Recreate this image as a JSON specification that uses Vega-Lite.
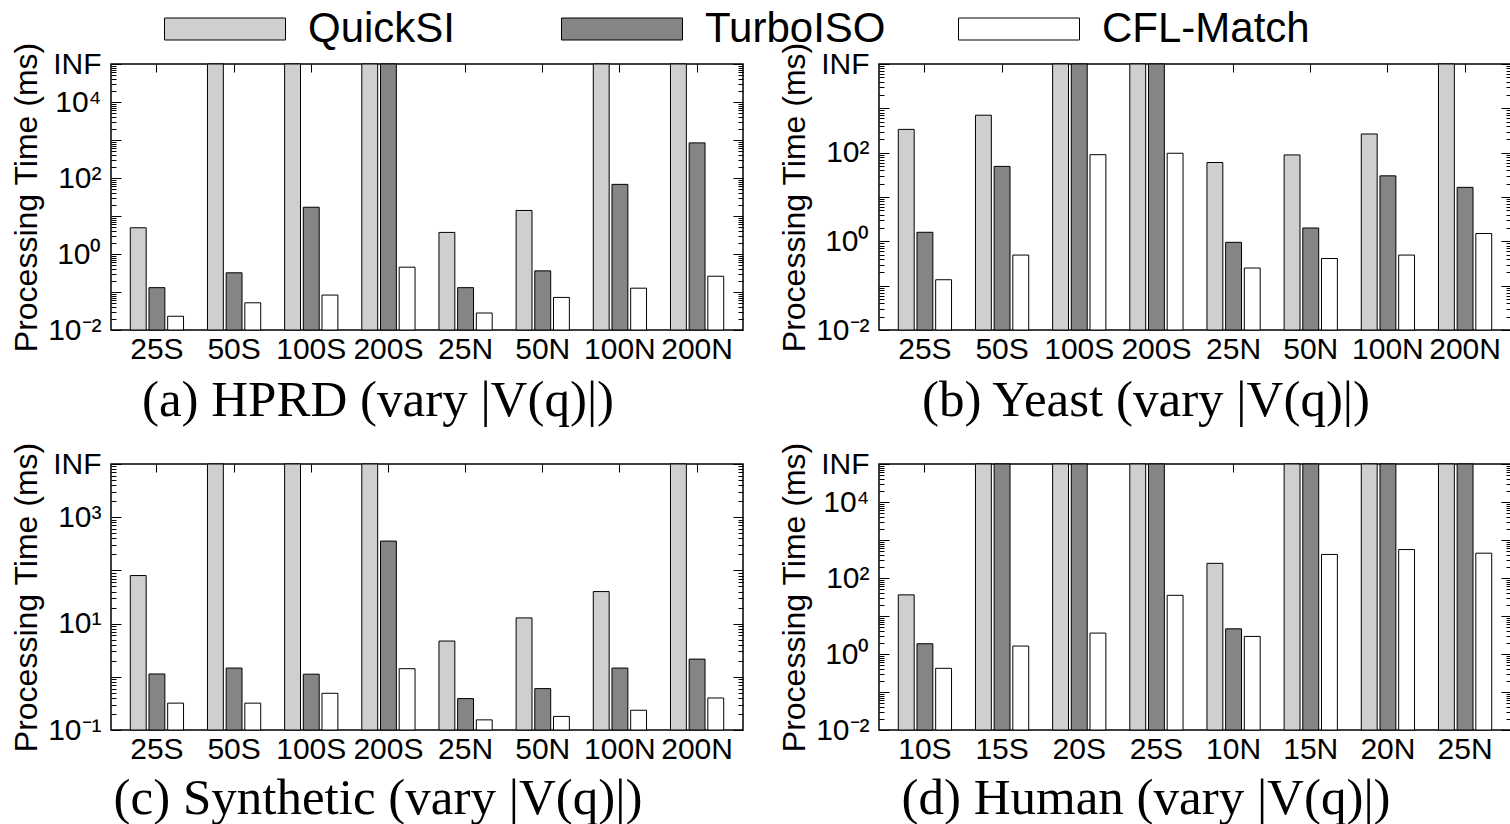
{
  "$schema": "https://vega.github.io/schema/vega-lite/v6.json",
  "padding": {"left": 9, "top": 8, "right": 0, "bottom": 0},
  "background": "white",
  "data": {"values": [
    {"panel":"a","query":"25S","method":"QuickSI","time":4.9},
    {"panel":"a","query":"25S","method":"TurboISO","time":0.13},
    {"panel":"a","query":"25S","method":"CFL-Match","time":0.023},
    {"panel":"a","query":"50S","method":"QuickSI","time":100000},
    {"panel":"a","query":"50S","method":"TurboISO","time":0.32},
    {"panel":"a","query":"50S","method":"CFL-Match","time":0.052},
    {"panel":"a","query":"100S","method":"QuickSI","time":100000},
    {"panel":"a","query":"100S","method":"TurboISO","time":17},
    {"panel":"a","query":"100S","method":"CFL-Match","time":0.083},
    {"panel":"a","query":"200S","method":"QuickSI","time":100000},
    {"panel":"a","query":"200S","method":"TurboISO","time":100000},
    {"panel":"a","query":"200S","method":"CFL-Match","time":0.45},
    {"panel":"a","query":"25N","method":"QuickSI","time":3.7},
    {"panel":"a","query":"25N","method":"TurboISO","time":0.13},
    {"panel":"a","query":"25N","method":"CFL-Match","time":0.028},
    {"panel":"a","query":"50N","method":"QuickSI","time":14},
    {"panel":"a","query":"50N","method":"TurboISO","time":0.36},
    {"panel":"a","query":"50N","method":"CFL-Match","time":0.072},
    {"panel":"a","query":"100N","method":"QuickSI","time":100000},
    {"panel":"a","query":"100N","method":"TurboISO","time":68},
    {"panel":"a","query":"100N","method":"CFL-Match","time":0.126},
    {"panel":"a","query":"200N","method":"QuickSI","time":100000},
    {"panel":"a","query":"200N","method":"TurboISO","time":840},
    {"panel":"a","query":"200N","method":"CFL-Match","time":0.26},

    {"panel":"b","query":"25S","method":"QuickSI","time":335},
    {"panel":"b","query":"25S","method":"TurboISO","time":1.6},
    {"panel":"b","query":"25S","method":"CFL-Match","time":0.136},
    {"panel":"b","query":"50S","method":"QuickSI","time":700},
    {"panel":"b","query":"50S","method":"TurboISO","time":49},
    {"panel":"b","query":"50S","method":"CFL-Match","time":0.49},
    {"panel":"b","query":"100S","method":"QuickSI","time":10000},
    {"panel":"b","query":"100S","method":"TurboISO","time":10000},
    {"panel":"b","query":"100S","method":"CFL-Match","time":90},
    {"panel":"b","query":"200S","method":"QuickSI","time":10000},
    {"panel":"b","query":"200S","method":"TurboISO","time":10000},
    {"panel":"b","query":"200S","method":"CFL-Match","time":97},
    {"panel":"b","query":"25N","method":"QuickSI","time":60},
    {"panel":"b","query":"25N","method":"TurboISO","time":0.95},
    {"panel":"b","query":"25N","method":"CFL-Match","time":0.25},
    {"panel":"b","query":"50N","method":"QuickSI","time":89},
    {"panel":"b","query":"50N","method":"TurboISO","time":2.0},
    {"panel":"b","query":"50N","method":"CFL-Match","time":0.41},
    {"panel":"b","query":"100N","method":"QuickSI","time":264},
    {"panel":"b","query":"100N","method":"TurboISO","time":30},
    {"panel":"b","query":"100N","method":"CFL-Match","time":0.49},
    {"panel":"b","query":"200N","method":"QuickSI","time":10000},
    {"panel":"b","query":"200N","method":"TurboISO","time":16.5},
    {"panel":"b","query":"200N","method":"CFL-Match","time":1.5},

    {"panel":"c","query":"25S","method":"QuickSI","time":80},
    {"panel":"c","query":"25S","method":"TurboISO","time":1.13},
    {"panel":"c","query":"25S","method":"CFL-Match","time":0.32},
    {"panel":"c","query":"50S","method":"QuickSI","time":10000},
    {"panel":"c","query":"50S","method":"TurboISO","time":1.46},
    {"panel":"c","query":"50S","method":"CFL-Match","time":0.32},
    {"panel":"c","query":"100S","method":"QuickSI","time":10000},
    {"panel":"c","query":"100S","method":"TurboISO","time":1.12},
    {"panel":"c","query":"100S","method":"CFL-Match","time":0.49},
    {"panel":"c","query":"200S","method":"QuickSI","time":10000},
    {"panel":"c","query":"200S","method":"TurboISO","time":356},
    {"panel":"c","query":"200S","method":"CFL-Match","time":1.42},
    {"panel":"c","query":"25N","method":"QuickSI","time":4.7},
    {"panel":"c","query":"25N","method":"TurboISO","time":0.39},
    {"panel":"c","query":"25N","method":"CFL-Match","time":0.155},
    {"panel":"c","query":"50N","method":"QuickSI","time":12.8},
    {"panel":"c","query":"50N","method":"TurboISO","time":0.6},
    {"panel":"c","query":"50N","method":"CFL-Match","time":0.18},
    {"panel":"c","query":"100N","method":"QuickSI","time":40},
    {"panel":"c","query":"100N","method":"TurboISO","time":1.46},
    {"panel":"c","query":"100N","method":"CFL-Match","time":0.235},
    {"panel":"c","query":"200N","method":"QuickSI","time":10000},
    {"panel":"c","query":"200N","method":"TurboISO","time":2.15},
    {"panel":"c","query":"200N","method":"CFL-Match","time":0.4},

    {"panel":"d","query":"10S","method":"QuickSI","time":36},
    {"panel":"d","query":"10S","method":"TurboISO","time":1.86},
    {"panel":"d","query":"10S","method":"CFL-Match","time":0.42},
    {"panel":"d","query":"15S","method":"QuickSI","time":100000},
    {"panel":"d","query":"15S","method":"TurboISO","time":100000},
    {"panel":"d","query":"15S","method":"CFL-Match","time":1.62},
    {"panel":"d","query":"20S","method":"QuickSI","time":100000},
    {"panel":"d","query":"20S","method":"TurboISO","time":100000},
    {"panel":"d","query":"20S","method":"CFL-Match","time":3.55},
    {"panel":"d","query":"25S","method":"QuickSI","time":100000},
    {"panel":"d","query":"25S","method":"TurboISO","time":100000},
    {"panel":"d","query":"25S","method":"CFL-Match","time":35},
    {"panel":"d","query":"10N","method":"QuickSI","time":243},
    {"panel":"d","query":"10N","method":"TurboISO","time":4.6},
    {"panel":"d","query":"10N","method":"CFL-Match","time":2.9},
    {"panel":"d","query":"15N","method":"QuickSI","time":100000},
    {"panel":"d","query":"15N","method":"TurboISO","time":100000},
    {"panel":"d","query":"15N","method":"CFL-Match","time":417},
    {"panel":"d","query":"20N","method":"QuickSI","time":100000},
    {"panel":"d","query":"20N","method":"TurboISO","time":100000},
    {"panel":"d","query":"20N","method":"CFL-Match","time":560},
    {"panel":"d","query":"25N","method":"QuickSI","time":100000},
    {"panel":"d","query":"25N","method":"TurboISO","time":100000},
    {"panel":"d","query":"25N","method":"CFL-Match","time":450}
  ]},
  "spacing": 14,
  "vconcat": [
    {"hconcat": [
      {"width": 632, "height": 266,
       "title": {"text": "(a)  HPRD (vary |V(q)|)", "orient": "bottom", "anchor": "middle", "dx": -49, "offset": 12, "font": "Liberation Serif", "fontSize": 51, "fontWeight": "normal", "color": "black"},
       "transform": [{"filter": "datum.panel == 'a'"}],
       "layer": [
        {"mark": {"type": "bar", "stroke": "black", "strokeWidth": 1},
         "encoding": {
          "x": {"field": "query", "type": "nominal", "sort": null, "scale": {"paddingInner": 0.31, "paddingOuter": 0.25},
                "axis": {"orient": "bottom", "title": null, "ticks": false, "domain": false, "labelAngle": 0, "labelPadding": 4, "labelFontSize": 30}},
          "xOffset": {"field": "method", "type": "nominal", "sort": ["QuickSI", "TurboISO", "CFL-Match"], "scale": {"paddingInner": 0.15, "paddingOuter": 0}},
          "y": {"field": "time", "type": "quantitative", "scale": {"type": "log", "domain": [0.01, 100000], "nice": false},
                "axis": {"orient": "left", "values": [0.01, 0.1, 1, 10, 100, 1000, 10000, 100000], "labelExpr": "datum.value == 100000 ? 'INF' : datum.value == 10000 ? '10⁴' : datum.value == 100 ? '10²' : datum.value == 1 ? '10⁰' : datum.value == 0.01 ? '10⁻²' : ''", "title": "Processing Time (ms)", "tickSize": -10, "labelPadding": 20, "domain": false, "labelOverlap": false, "labelFontSize": 30, "titleFontSize": 32, "titlePadding": 4}},
          "y2": {"datum": 0.01},
          "fill": {"field": "method", "type": "nominal", "scale": {"domain": ["QuickSI", "TurboISO", "CFL-Match"], "range": ["#cfcfcf", "#858585", "#ffffff"]},
                   "legend": {"orient": "none", "legendX": 93, "legendY": -56, "direction": "horizontal", "title": null, "symbolType": "M-5.5,-1H5.5V1H-5.5Z", "symbolSize": 484, "symbolStrokeColor": "black", "symbolStrokeWidth": 1, "symbolOpacity": 1, "labelFontSize": 42, "labelOffset": 62, "columnPadding": 43, "gridAlign": "all", "labelLimit": 400}}
         }},
        {"mark": {"type": "bar", "opacity": 0},
         "encoding": {
          "x": {"field": "query", "type": "nominal", "sort": null, "axis": {"orient": "top", "title": null, "labels": false, "domain": false, "tickSize": -8}},
          "y": {"field": "time", "type": "quantitative", "scale": {"type": "log", "domain": [0.01, 100000], "nice": false},
                "axis": {"orient": "right", "values": [0.01, 0.1, 1, 10, 100, 1000, 10000, 100000], "labels": false, "title": null, "tickSize": -10, "domain": false}},
          "y2": {"datum": 0.01}
         }},
        {"mark": {"type": "bar", "opacity": 0},
         "encoding": {
          "x": {"field": "query", "type": "nominal", "sort": null, "axis": null},
          "y": {"field": "time", "type": "quantitative", "scale": {"type": "log", "domain": [0.01, 100000], "nice": false},
                "axis": {"orient": "left", "values": [0.02,0.03,0.04,0.05,0.06,0.07,0.08,0.09,0.2,0.3,0.4,0.5,0.6,0.7,0.8,0.9,2,3,4,5,6,7,8,9,20,30,40,50,60,70,80,90,200,300,400,500,600,700,800,900,2000,3000,4000,5000,6000,7000,8000,9000,20000,30000,40000,50000,60000,70000,80000,90000], "labels": false, "title": null, "tickSize": -5, "domain": false}},
          "y2": {"datum": 0.01}
         }},
        {"mark": {"type": "bar", "opacity": 0},
         "encoding": {
          "x": {"field": "query", "type": "nominal", "sort": null, "axis": null},
          "y": {"field": "time", "type": "quantitative", "scale": {"type": "log", "domain": [0.01, 100000], "nice": false},
                "axis": {"orient": "right", "values": [0.02,0.03,0.04,0.05,0.06,0.07,0.08,0.09,0.2,0.3,0.4,0.5,0.6,0.7,0.8,0.9,2,3,4,5,6,7,8,9,20,30,40,50,60,70,80,90,200,300,400,500,600,700,800,900,2000,3000,4000,5000,6000,7000,8000,9000,20000,30000,40000,50000,60000,70000,80000,90000], "labels": false, "title": null, "tickSize": -5, "domain": false}},
          "y2": {"datum": 0.01}
         }}
       ],
       "resolve": {"axis": {"x": "independent", "y": "independent"}}
      },
      {"width": 632, "height": 266,
       "title": {"text": "(b)  Yeast (vary |V(q)|)", "orient": "bottom", "anchor": "middle", "dx": -49, "offset": 12, "font": "Liberation Serif", "fontSize": 51, "fontWeight": "normal", "color": "black"},
       "transform": [{"filter": "datum.panel == 'b'"}],
       "layer": [
        {"mark": {"type": "bar", "stroke": "black", "strokeWidth": 1},
         "encoding": {
          "x": {"field": "query", "type": "nominal", "sort": null, "scale": {"paddingInner": 0.31, "paddingOuter": 0.25},
                "axis": {"orient": "bottom", "title": null, "ticks": false, "domain": false, "labelAngle": 0, "labelPadding": 4, "labelFontSize": 30}},
          "xOffset": {"field": "method", "type": "nominal", "sort": ["QuickSI", "TurboISO", "CFL-Match"], "scale": {"paddingInner": 0.15, "paddingOuter": 0}},
          "y": {"field": "time", "type": "quantitative", "scale": {"type": "log", "domain": [0.01, 10000], "nice": false},
                "axis": {"orient": "left", "values": [0.01, 0.1, 1, 10, 100, 1000, 10000], "labelExpr": "datum.value == 10000 ? 'INF' : datum.value == 100 ? '10²' : datum.value == 1 ? '10⁰' : datum.value == 0.01 ? '10⁻²' : ''", "title": "Processing Time (ms)", "tickSize": -10, "labelPadding": 20, "domain": false, "labelOverlap": false, "labelFontSize": 30, "titleFontSize": 32, "titlePadding": 4}},
          "y2": {"datum": 0.01},
          "fill": {"field": "method", "type": "nominal", "scale": {"domain": ["QuickSI", "TurboISO", "CFL-Match"], "range": ["#cfcfcf", "#858585", "#ffffff"]},
                   "legend": {"orient": "none", "legendX": 93, "legendY": -56, "direction": "horizontal", "title": null, "symbolType": "M-5.5,-1H5.5V1H-5.5Z", "symbolSize": 484, "symbolStrokeColor": "black", "symbolStrokeWidth": 1, "symbolOpacity": 1, "labelFontSize": 42, "labelOffset": 62, "columnPadding": 43, "gridAlign": "all", "labelLimit": 400}}
         }},
        {"mark": {"type": "bar", "opacity": 0},
         "encoding": {
          "x": {"field": "query", "type": "nominal", "sort": null, "axis": {"orient": "top", "title": null, "labels": false, "domain": false, "tickSize": -8}},
          "y": {"field": "time", "type": "quantitative", "scale": {"type": "log", "domain": [0.01, 10000], "nice": false},
                "axis": {"orient": "right", "values": [0.01, 0.1, 1, 10, 100, 1000, 10000], "labels": false, "title": null, "tickSize": -10, "domain": false}},
          "y2": {"datum": 0.01}
         }},
        {"mark": {"type": "bar", "opacity": 0},
         "encoding": {
          "x": {"field": "query", "type": "nominal", "sort": null, "axis": null},
          "y": {"field": "time", "type": "quantitative", "scale": {"type": "log", "domain": [0.01, 10000], "nice": false},
                "axis": {"orient": "left", "values": [0.02,0.03,0.04,0.05,0.06,0.07,0.08,0.09,0.2,0.3,0.4,0.5,0.6,0.7,0.8,0.9,2,3,4,5,6,7,8,9,20,30,40,50,60,70,80,90,200,300,400,500,600,700,800,900,2000,3000,4000,5000,6000,7000,8000,9000], "labels": false, "title": null, "tickSize": -5, "domain": false}},
          "y2": {"datum": 0.01}
         }},
        {"mark": {"type": "bar", "opacity": 0},
         "encoding": {
          "x": {"field": "query", "type": "nominal", "sort": null, "axis": null},
          "y": {"field": "time", "type": "quantitative", "scale": {"type": "log", "domain": [0.01, 10000], "nice": false},
                "axis": {"orient": "right", "values": [0.02,0.03,0.04,0.05,0.06,0.07,0.08,0.09,0.2,0.3,0.4,0.5,0.6,0.7,0.8,0.9,2,3,4,5,6,7,8,9,20,30,40,50,60,70,80,90,200,300,400,500,600,700,800,900,2000,3000,4000,5000,6000,7000,8000,9000], "labels": false, "title": null, "tickSize": -5, "domain": false}},
          "y2": {"datum": 0.01}
         }}
       ],
       "resolve": {"axis": {"x": "independent", "y": "independent"}}
      }
    ], "spacing": 136, "bounds": "flush"},
    {"hconcat": [
      {"width": 632, "height": 266,
       "title": {"text": "(c)  Synthetic (vary |V(q)|)", "orient": "bottom", "anchor": "middle", "dx": -49, "offset": 10, "font": "Liberation Serif", "fontSize": 51, "fontWeight": "normal", "color": "black"},
       "transform": [{"filter": "datum.panel == 'c'"}],
       "layer": [
        {"mark": {"type": "bar", "stroke": "black", "strokeWidth": 1},
         "encoding": {
          "x": {"field": "query", "type": "nominal", "sort": null, "scale": {"paddingInner": 0.31, "paddingOuter": 0.25},
                "axis": {"orient": "bottom", "title": null, "ticks": false, "domain": false, "labelAngle": 0, "labelPadding": 4, "labelFontSize": 30}},
          "xOffset": {"field": "method", "type": "nominal", "sort": ["QuickSI", "TurboISO", "CFL-Match"], "scale": {"paddingInner": 0.15, "paddingOuter": 0}},
          "y": {"field": "time", "type": "quantitative", "scale": {"type": "log", "domain": [0.1, 10000], "nice": false},
                "axis": {"orient": "left", "values": [0.1, 1, 10, 100, 1000, 10000], "labelExpr": "datum.value == 10000 ? 'INF' : datum.value == 1000 ? '10³' : datum.value == 10 ? '10¹' : datum.value == 0.1 ? '10⁻¹' : ''", "title": "Processing Time (ms)", "tickSize": -10, "labelPadding": 20, "domain": false, "labelOverlap": false, "labelFontSize": 30, "titleFontSize": 32, "titlePadding": 4}},
          "y2": {"datum": 0.1},
          "fill": {"field": "method", "type": "nominal", "scale": {"domain": ["QuickSI", "TurboISO", "CFL-Match"], "range": ["#cfcfcf", "#858585", "#ffffff"]},
                   "legend": {"orient": "none", "legendX": 93, "legendY": -56, "direction": "horizontal", "title": null, "symbolType": "M-5.5,-1H5.5V1H-5.5Z", "symbolSize": 484, "symbolStrokeColor": "black", "symbolStrokeWidth": 1, "symbolOpacity": 1, "labelFontSize": 42, "labelOffset": 62, "columnPadding": 43, "gridAlign": "all", "labelLimit": 400}}
         }},
        {"mark": {"type": "bar", "opacity": 0},
         "encoding": {
          "x": {"field": "query", "type": "nominal", "sort": null, "axis": {"orient": "top", "title": null, "labels": false, "domain": false, "tickSize": -8}},
          "y": {"field": "time", "type": "quantitative", "scale": {"type": "log", "domain": [0.1, 10000], "nice": false},
                "axis": {"orient": "right", "values": [0.1, 1, 10, 100, 1000, 10000], "labels": false, "title": null, "tickSize": -10, "domain": false}},
          "y2": {"datum": 0.1}
         }},
        {"mark": {"type": "bar", "opacity": 0},
         "encoding": {
          "x": {"field": "query", "type": "nominal", "sort": null, "axis": null},
          "y": {"field": "time", "type": "quantitative", "scale": {"type": "log", "domain": [0.1, 10000], "nice": false},
                "axis": {"orient": "left", "values": [0.2,0.3,0.4,0.5,0.6,0.7,0.8,0.9,2,3,4,5,6,7,8,9,20,30,40,50,60,70,80,90,200,300,400,500,600,700,800,900,2000,3000,4000,5000,6000,7000,8000,9000], "labels": false, "title": null, "tickSize": -5, "domain": false}},
          "y2": {"datum": 0.1}
         }},
        {"mark": {"type": "bar", "opacity": 0},
         "encoding": {
          "x": {"field": "query", "type": "nominal", "sort": null, "axis": null},
          "y": {"field": "time", "type": "quantitative", "scale": {"type": "log", "domain": [0.1, 10000], "nice": false},
                "axis": {"orient": "right", "values": [0.2,0.3,0.4,0.5,0.6,0.7,0.8,0.9,2,3,4,5,6,7,8,9,20,30,40,50,60,70,80,90,200,300,400,500,600,700,800,900,2000,3000,4000,5000,6000,7000,8000,9000], "labels": false, "title": null, "tickSize": -5, "domain": false}},
          "y2": {"datum": 0.1}
         }}
       ],
       "resolve": {"axis": {"x": "independent", "y": "independent"}}
      },
      {"width": 632, "height": 266,
       "title": {"text": "(d)  Human (vary |V(q)|)", "orient": "bottom", "anchor": "middle", "dx": -49, "offset": 10, "font": "Liberation Serif", "fontSize": 51, "fontWeight": "normal", "color": "black"},
       "transform": [{"filter": "datum.panel == 'd'"}],
       "layer": [
        {"mark": {"type": "bar", "stroke": "black", "strokeWidth": 1},
         "encoding": {
          "x": {"field": "query", "type": "nominal", "sort": null, "scale": {"paddingInner": 0.31, "paddingOuter": 0.25},
                "axis": {"orient": "bottom", "title": null, "ticks": false, "domain": false, "labelAngle": 0, "labelPadding": 4, "labelFontSize": 30}},
          "xOffset": {"field": "method", "type": "nominal", "sort": ["QuickSI", "TurboISO", "CFL-Match"], "scale": {"paddingInner": 0.15, "paddingOuter": 0}},
          "y": {"field": "time", "type": "quantitative", "scale": {"type": "log", "domain": [0.01, 100000], "nice": false},
                "axis": {"orient": "left", "values": [0.01, 0.1, 1, 10, 100, 1000, 10000, 100000], "labelExpr": "datum.value == 100000 ? 'INF' : datum.value == 10000 ? '10⁴' : datum.value == 100 ? '10²' : datum.value == 1 ? '10⁰' : datum.value == 0.01 ? '10⁻²' : ''", "title": "Processing Time (ms)", "tickSize": -10, "labelPadding": 20, "domain": false, "labelOverlap": false, "labelFontSize": 30, "titleFontSize": 32, "titlePadding": 4}},
          "y2": {"datum": 0.01},
          "fill": {"field": "method", "type": "nominal", "scale": {"domain": ["QuickSI", "TurboISO", "CFL-Match"], "range": ["#cfcfcf", "#858585", "#ffffff"]},
                   "legend": {"orient": "none", "legendX": 93, "legendY": -56, "direction": "horizontal", "title": null, "symbolType": "M-5.5,-1H5.5V1H-5.5Z", "symbolSize": 484, "symbolStrokeColor": "black", "symbolStrokeWidth": 1, "symbolOpacity": 1, "labelFontSize": 42, "labelOffset": 62, "columnPadding": 43, "gridAlign": "all", "labelLimit": 400}}
         }},
        {"mark": {"type": "bar", "opacity": 0},
         "encoding": {
          "x": {"field": "query", "type": "nominal", "sort": null, "axis": {"orient": "top", "title": null, "labels": false, "domain": false, "tickSize": -8}},
          "y": {"field": "time", "type": "quantitative", "scale": {"type": "log", "domain": [0.01, 100000], "nice": false},
                "axis": {"orient": "right", "values": [0.01, 0.1, 1, 10, 100, 1000, 10000, 100000], "labels": false, "title": null, "tickSize": -10, "domain": false}},
          "y2": {"datum": 0.01}
         }},
        {"mark": {"type": "bar", "opacity": 0},
         "encoding": {
          "x": {"field": "query", "type": "nominal", "sort": null, "axis": null},
          "y": {"field": "time", "type": "quantitative", "scale": {"type": "log", "domain": [0.01, 100000], "nice": false},
                "axis": {"orient": "left", "values": [0.02,0.03,0.04,0.05,0.06,0.07,0.08,0.09,0.2,0.3,0.4,0.5,0.6,0.7,0.8,0.9,2,3,4,5,6,7,8,9,20,30,40,50,60,70,80,90,200,300,400,500,600,700,800,900,2000,3000,4000,5000,6000,7000,8000,9000,20000,30000,40000,50000,60000,70000,80000,90000], "labels": false, "title": null, "tickSize": -5, "domain": false}},
          "y2": {"datum": 0.01}
         }},
        {"mark": {"type": "bar", "opacity": 0},
         "encoding": {
          "x": {"field": "query", "type": "nominal", "sort": null, "axis": null},
          "y": {"field": "time", "type": "quantitative", "scale": {"type": "log", "domain": [0.01, 100000], "nice": false},
                "axis": {"orient": "right", "values": [0.02,0.03,0.04,0.05,0.06,0.07,0.08,0.09,0.2,0.3,0.4,0.5,0.6,0.7,0.8,0.9,2,3,4,5,6,7,8,9,20,30,40,50,60,70,80,90,200,300,400,500,600,700,800,900,2000,3000,4000,5000,6000,7000,8000,9000,20000,30000,40000,50000,60000,70000,80000,90000], "labels": false, "title": null, "tickSize": -5, "domain": false}},
          "y2": {"datum": 0.01}
         }}
       ],
       "resolve": {"axis": {"x": "independent", "y": "independent"}}
      }
    ], "spacing": 136, "bounds": "flush"}
  ],
  "config": {
    "view": {"stroke": "black", "strokeWidth": 1.5},
    "font": "Liberation Sans",
    "axis": {"labelColor": "black", "tickColor": "black", "tickWidth": 1, "grid": false, "titleColor": "black", "titleFontWeight": "normal", "labelFont": "Liberation Sans", "titleFont": "Liberation Sans"},
    "legend": {"labelColor": "black", "labelFont": "Liberation Sans", "padding": 0}
  }
}
